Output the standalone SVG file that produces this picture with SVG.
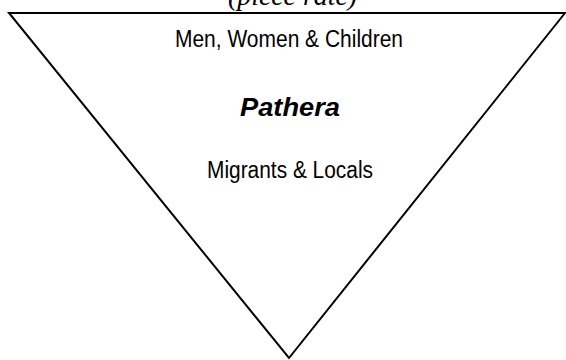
<svg xmlns="http://www.w3.org/2000/svg" width="566" height="360" viewBox="0 0 566 360">
<style>
.lbl{font-family:"Liberation Sans",Arial,sans-serif;font-size:23px;fill:#000;text-anchor:middle}
.title{font-family:"Liberation Serif","Times New Roman",serif;font-style:italic;font-size:27px;fill:#000;text-anchor:middle}
.shape{fill:#fff;stroke:#000;stroke-width:2;stroke-linejoin:miter}
</style>
<rect width="566" height="360" fill="#fff"/>
<text class="title" x="292.5" y="4.5" textLength="129" lengthAdjust="spacingAndGlyphs">(piece rate)</text>
<g id="triangle">
<polygon class="shape" points="9,13 565,13 289,358"/>
</g>
<g id="labels">
<text class="lbl" x="289" y="46.5" textLength="228" lengthAdjust="spacingAndGlyphs">Men, Women &amp; Children</text>
<text class="lbl" x="290" y="116" style="font-weight:bold;font-style:italic;font-size:26px" textLength="100" lengthAdjust="spacingAndGlyphs">Pathera</text>
<text class="lbl" x="290" y="178.3" textLength="166" lengthAdjust="spacingAndGlyphs">Migrants &amp; Locals</text>
</g>
<g id="connectors"></g>
</svg>
